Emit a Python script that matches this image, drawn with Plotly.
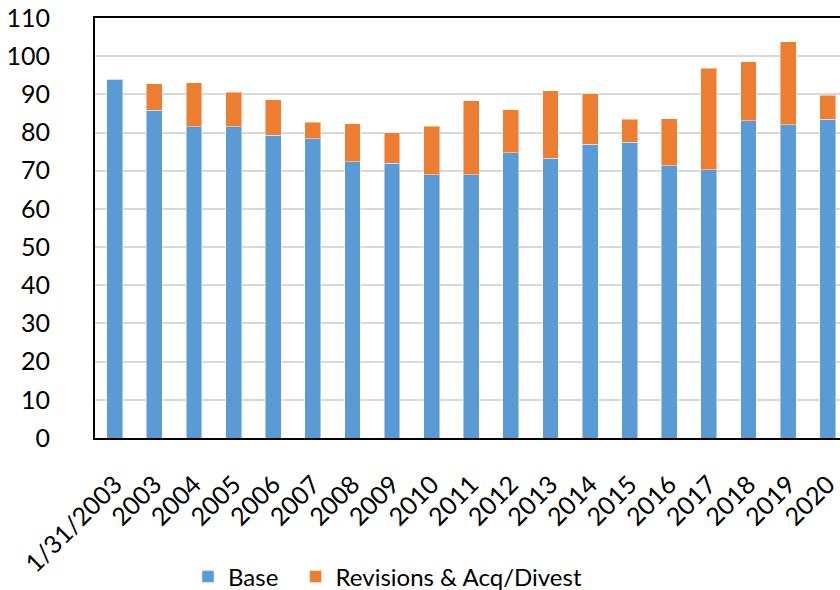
import plotly.graph_objects as go

# Category labels along the x axis
periods = ["1/31/2003", "2003", "2004", "2005", "2006", "2007", "2008", "2009",
           "2010", "2011", "2012", "2013", "2014", "2015", "2016", "2017",
           "2018", "2019", "2020"]

# Stacked segments
base = [94.0, 85.9, 81.5, 81.5, 79.3, 78.4, 72.4, 72.0, 69.0, 68.9,
        74.7, 73.3, 76.9, 77.5, 71.3, 70.3, 83.1, 82.1, 83.5]
revisions = [0.0, 6.9, 11.6, 9.0, 9.3, 4.3, 9.9, 7.9, 12.6, 19.4,
             11.3, 17.7, 13.3, 6.0, 12.3, 26.5, 15.4, 21.7, 6.3]

y_ticks = list(range(0, 111, 10))

FONT = "Lato, Carlito, Calibri, sans-serif"
NBSP = "\u00a0"

fig = go.Figure()
fig.add_trace(go.Bar(
    x=periods, y=base, name="Base" + NBSP * 2,
    marker=dict(color="#5B9BD5", line=dict(color="rgba(255,255,255,0.45)", width=1)),
))
fig.add_trace(go.Bar(
    x=periods, y=revisions, name="Revisions & Acq/Divest",
    marker=dict(color="#ED7D31", line=dict(color="rgba(255,255,255,0.45)", width=1)),
))

fig.update_layout(
    barmode="stack",
    bargap=0.6,
    width=840, height=590,
    margin=dict(l=95, r=0, t=18, b=152, autoexpand=False),
    paper_bgcolor="white", plot_bgcolor="white",
    font=dict(family=FONT, color="black", size=24),
    showlegend=True,
    legend=dict(
        orientation="h",
        x=(188 - 95) / 745, xanchor="left",
        y=-(577 - 438) / 420, yanchor="middle",
        font=dict(family=FONT, size=24, color="black"),
        traceorder="normal",
        itemclick=False,
    ),
)

fig.update_xaxes(
    type="category",
    range=[-0.5, 18.31],
    tickangle=-45,
    tickfont=dict(family=FONT, size=25, color="black"),
    showline=True, linecolor="black", linewidth=2, mirror=True,
    showgrid=False, ticks="", ticklabelstandoff=20,
    automargin=False,
)
fig.update_yaxes(
    range=[0, 110],
    tickvals=y_ticks,
    tickfont=dict(family=FONT, size=25, color="black"),
    showline=True, linecolor="black", linewidth=2, mirror=False,
    showgrid=True, gridcolor="#d9d9d9", gridwidth=2,
    ticks="", ticklabelstandoff=38,
    zeroline=False, automargin=False,
)

fig.write_html("out.html")
